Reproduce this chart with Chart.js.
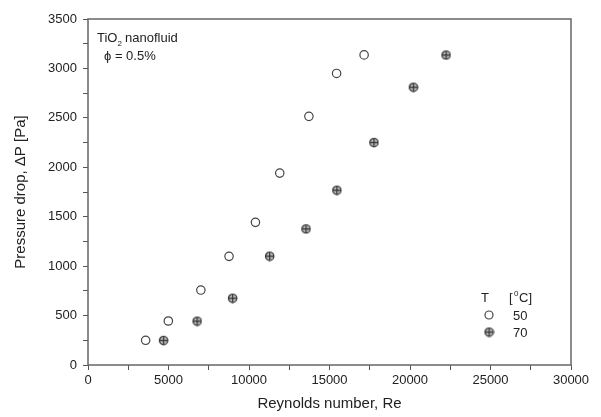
<!DOCTYPE html>
<html>
<head>
<meta charset="utf-8">
<script src="https://cdn.jsdelivr.net/npm/chart.js@4"></script>
<style>
  body { margin: 0; background: #fff; }
  #wrap { width: 601px; height: 417px; }
</style>
</head>
<body>
<div id="wrap"><canvas id="dpChart"></canvas></div>
<script>
// Pressure drop vs Reynolds number, TiO2 nanofluid
const re50 = [3580, 4990, 7010, 8760, 10400, 11910, 13720, 15440, 17150];
const dp50 = [250, 445, 758, 1099, 1443, 1941, 2515, 2949, 3137];
const re70 = [4680, 6770, 8970, 11270, 13530, 15450, 17750, 20200, 22230];
const dp70 = [250, 445, 677, 1102, 1378, 1769, 2252, 2811, 3137];
const xLabels = ['0', '5000', '10000', '15000', '20000', '25000', '30000'];
const yLabels = ['0', '500', '1000', '1500', '2000', '2500', '3000', '3500'];

const toXY = (xs, ys) => xs.map((x, i) => ({ x: x, y: ys[i] }));

// crossed circle marker
function crossedCircle(r) {
  const c = document.createElement('canvas');
  const s = r * 2 + 3;
  c.width = s; c.height = s;
  const g = c.getContext('2d');
  const m = s / 2;
  g.beginPath();
  g.arc(m, m, r, 0, Math.PI * 2);
  g.fillStyle = '#b8b8b8';
  g.fill();
  g.strokeStyle = '#333';
  g.lineWidth = 1.2;
  g.stroke();
  g.beginPath();
  g.moveTo(m - r, m); g.lineTo(m + r, m);
  g.moveTo(m, m - r); g.lineTo(m, m + r);
  g.stroke();
  return c;
}
const crossMark = crossedCircle(4.2);

const frame = {
  id: 'frame',
  afterDraw(chart) {
    const { ctx, chartArea: a } = chart;
    ctx.save();
    ctx.strokeStyle = '#666';
    ctx.lineWidth = 1.5;
    ctx.strokeRect(a.left, a.top, a.right - a.left, a.bottom - a.top);

    ctx.fillStyle = '#222';
    ctx.font = '13px "Liberation Sans", Arial, sans-serif';
    ctx.textBaseline = 'alphabetic';
    // annotation
    ctx.fillText('TiO', 97, 42);
    const w = ctx.measureText('TiO').width;
    ctx.font = '8px "Liberation Sans", Arial, sans-serif';
    ctx.fillText('2', 97 + w, 46);
    ctx.font = '13px "Liberation Sans", Arial, sans-serif';
    ctx.fillText(' nanofluid', 97 + w + 4, 42);
    ctx.fillText('\u03D5 = 0.5%', 104, 60);

    // legend
    ctx.fillText('T', 481, 302);
    ctx.fillText('[', 509, 302);
    ctx.font = '8px "Liberation Sans", Arial, sans-serif';
    ctx.fillText('0', 514, 296);
    ctx.font = '13px "Liberation Sans", Arial, sans-serif';
    ctx.fillText('C]', 519, 302);
    ctx.fillText('50', 513, 320);
    ctx.fillText('70', 513, 337);
    ctx.beginPath();
    ctx.arc(489, 315, 4, 0, Math.PI * 2);
    ctx.strokeStyle = '#444';
    ctx.lineWidth = 1.2;
    ctx.stroke();
    ctx.drawImage(crossMark, 489 - crossMark.width / 2, 332 - crossMark.height / 2);
    ctx.restore();
  }
};

const tickFont = { family: '"Liberation Sans", Arial, sans-serif', size: 13 };

new Chart(document.getElementById('dpChart'), {
  type: 'scatter',
  data: {
    datasets: [{
      label: '50',
      data: toXY(re50, dp50),
      pointStyle: 'circle',
      pointRadius: 4.2,
      backgroundColor: '#fff',
      borderColor: '#444',
      borderWidth: 1.2
    }, {
      label: '70',
      data: toXY(re70, dp70),
      pointStyle: crossMark
    }]
  },
  options: {
    responsive: true,
    maintainAspectRatio: false,
    animation: false,
    layout: { padding: { top: 19, right: 30, left: 8, bottom: 0 } },
    scales: {
      x: {
        min: 0, max: 30000,
        afterFit: (s) => { s.height = 52; },
        ticks: {
          stepSize: 2500,
          autoSkip: false,
          maxRotation: 0,
          padding: 3,
          color: '#222',
          font: tickFont,
          callback: (v) => (v % 5000 === 0 ? xLabels[v / 5000] : '')
        },
        grid: { drawOnChartArea: false, tickLength: 5, color: '#555' },
        border: { display: false },
        title: {
          display: true,
          text: 'Reynolds number, Re',
          color: '#222',
          font: { family: '"Liberation Sans", Arial, sans-serif', size: 15 },
          padding: { top: 6 }
        }
      },
      y: {
        min: 0, max: 3500,
        afterFit: (s) => { s.width = 80; },
        ticks: {
          stepSize: 250,
          autoSkip: false,
          padding: 6,
          color: '#222',
          font: tickFont,
          callback: (v) => (v % 500 === 0 ? yLabels[v / 500] : '')
        },
        grid: { drawOnChartArea: false, tickLength: 5, color: '#555' },
        border: { display: false },
        title: {
          display: true,
          text: 'Pressure drop, \u0394P [Pa]',
          color: '#222',
          font: { family: '"Liberation Sans", Arial, sans-serif', size: 15 },
          padding: { bottom: 2 }
        }
      }
    },
    plugins: {
      legend: { display: false },
      tooltip: { enabled: false }
    }
  },
  plugins: [frame]
});
</script>
</body>
</html>
